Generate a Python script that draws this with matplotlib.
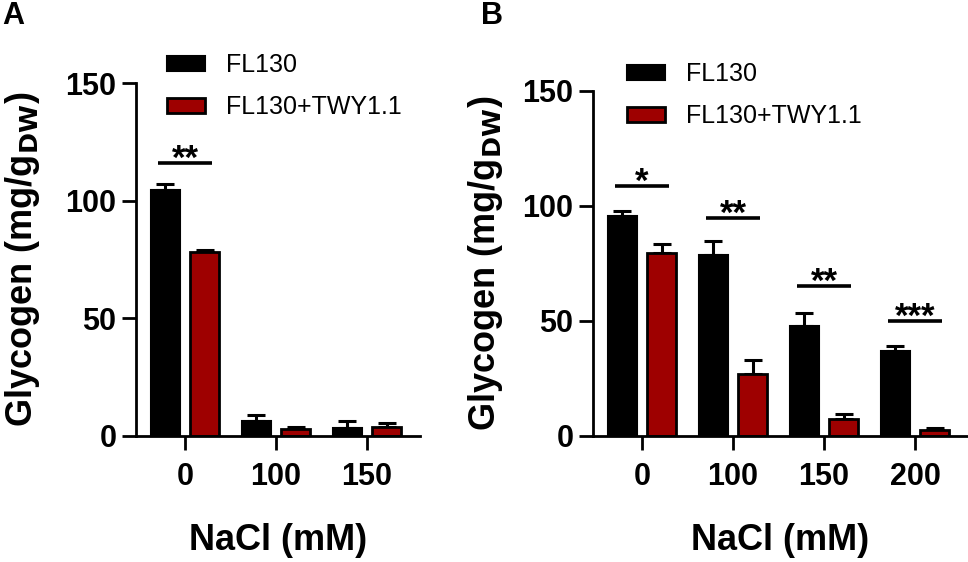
import matplotlib
matplotlib.use("Agg")
import matplotlib.pyplot as plt
import numpy as np

plt.rcParams['font.family'] = ['Liberation Sans', 'DejaVu Sans']

# panel A data
nacl_a = ['0', '100', '150']
fl130_a = [104.5, 6.5, 3.2]
fl130_a_err = [2.5, 2.5, 3.0]
twy_a = [78.0, 2.8, 3.7]
twy_a_err = [1.0, 1.2, 1.8]
sig_a = [(0, 116, '**')]

# panel B data
nacl_b = ['0', '100', '150', '200']
fl130_b = [95.5, 78.5, 47.7, 37.1]
fl130_b_err = [2.2, 6.3, 5.6, 2.0]
twy_b = [79.6, 26.8, 7.2, 2.6]
twy_b_err = [3.9, 6.2, 2.2, 0.8]
sig_b = [(0, 108.7, '*'), (1, 94.8, '**'), (2, 65.0, '**'), (3, 50.0, '***')]

RED = '#9e0000'
W = 0.32
OFF = 0.215


def draw_panel(ax, cats, v1, e1, v2, e2, sigs, xmax):
    x = np.arange(len(cats))
    b1 = ax.bar(x - OFF, v1, W, color='black', edgecolor='black', linewidth=1.5,
                label='FL130', zorder=2)
    b2 = ax.bar(x + OFF, v2, W, color=RED, edgecolor='black', linewidth=2.0,
                label='FL130+TWY1.1', zorder=2)
    ekw = dict(fmt='none', ecolor='black', elinewidth=2.2, capsize=6.5,
               capthick=2.2, zorder=1)
    ax.errorbar(x - OFF, v1, yerr=[np.zeros(len(v1)), e1], **ekw)
    ax.errorbar(x + OFF, v2, yerr=[np.zeros(len(v2)), e2], **ekw)
    for i, y, s in sigs:
        ax.plot([i - 0.3, i + 0.3], [y, y], color='black', lw=2.6,
                solid_capstyle='butt', clip_on=False)
        ax.annotate(s, (i, y), xytext=(0, -9), textcoords='offset points',
                    ha='center', va='bottom', fontsize=25, fontweight='bold')
    ax.set_xlim(-0.538, xmax)
    ax.set_ylim(0, 150)
    ax.set_yticks([0, 50, 100, 150])
    ax.set_xticks(x)
    ax.set_xticklabels(cats)
    for sp in ['top', 'right']:
        ax.spines[sp].set_visible(False)
    for sp in ['left', 'bottom']:
        ax.spines[sp].set_linewidth(2.0)
    ax.tick_params(axis='both', width=2.0, length=10, labelsize=22, pad=4)
    ax.tick_params(axis='x', pad=9)
    for lab in ax.get_xticklabels() + ax.get_yticklabels():
        lab.set_fontweight('bold')
    ax.set_ylabel('Glycogen (mg/g$_{\\mathbf{DW}}$)', fontsize=26, fontweight='bold')
    ax.set_xlabel('NaCl (mM)', fontsize=26, fontweight='bold', labelpad=22)
    return b1, b2


fig = plt.figure(figsize=(9.68, 5.62), dpi=100)
ax_a = fig.add_axes([0.1405, 0.2242, 0.2934, 0.628])
ax_b = fig.add_axes([0.6126, 0.2242, 0.3864, 0.6139])

draw_panel(ax_a, nacl_a, fl130_a, fl130_a_err, twy_a, twy_a_err, sig_a, 2.582)
draw_panel(ax_b, nacl_b, fl130_b, fl130_b_err, twy_b, twy_b_err, sig_b, 3.571)

ax_a.yaxis.set_label_coords(-0.331, 0.5)
ax_b.yaxis.set_label_coords(-0.235, 0.5)

leg_kw = dict(frameon=False, fontsize=18, handlelength=1.5, handleheight=0.55,
              handletextpad=0.85, labelspacing=0.72, borderpad=0, borderaxespad=0,
              loc='upper left')
ax_a.legend(bbox_to_anchor=(167 / 968, 1 - 53 / 562), bbox_transform=fig.transFigure, **leg_kw)
ax_b.legend(bbox_to_anchor=(627 / 968, 1 - 62 / 562), bbox_transform=fig.transFigure, **leg_kw)

fig.text(0.002, 0.998, 'A', fontsize=22, fontweight='bold', va='top', ha='left')
fig.text(0.497, 0.998, 'B', fontsize=22, fontweight='bold', va='top', ha='left')

fig.savefig('out.png', dpi=100)
